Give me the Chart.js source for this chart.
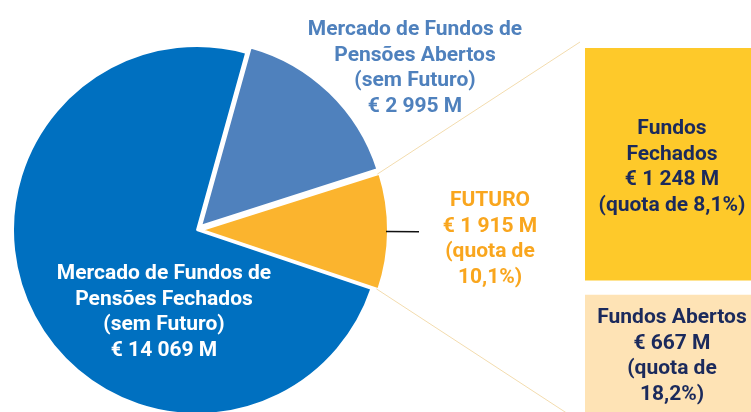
<!DOCTYPE html>
<html>
<head>
<meta charset="utf-8">
<script src="https://cdn.jsdelivr.net/npm/chart.js@4"></script>
<style>
  html, body { margin: 0; padding: 0; background: #fff; overflow: hidden; }
  #wrap { position: relative; width: 751px; height: 412px; overflow: hidden; }
  #bar { position: absolute; left: 585px; top: 0; }
  #pie { position: absolute; left: 0; top: 0; }
</style>
</head>
<body>
<div id="wrap">
  <canvas id="bar" width="170" height="415"></canvas>
  <canvas id="pie" width="751" height="412"></canvas>
</div>
<script>
// Pie: market split (clockwise from the exploded slice)
const pieLabels = [
  "Mercado de Fundos de Pensões Abertos (sem Futuro)",
  "FUTURO",
  "Mercado de Fundos de Pensões Fechados (sem Futuro)",
];
const pieValues = [2995, 1915, 14069];
const pieText = [
  ["Mercado de Fundos de", "Pensões Abertos", "(sem Futuro)", "€ 2 995 M"],
  ["FUTURO", "€ 1 915 M", "(quota de", "10,1%)"],
  ["Mercado de Fundos de", "Pensões Fechados", "(sem Futuro)", "€ 14 069 M"],
];

// Bar: breakdown of FUTURO (bottom to top)
const barLabels = ["Fundos Abertos", "Fundos Fechados"];
const barValues = [667, 1248];
const barText = [
  ["Fundos Abertos", "€ 667 M", "(quota de", "18,2%)"],
  ["Fundos", "Fechados", "€ 1 248 M", "(quota de 8,1%)"],
];

const FONT = "bold 21px Roboto, 'Noto Sans', sans-serif";
const LINE_H = 25.5;

function drawLines(ctx, lines, cx, cy, color) {
  ctx.save();
  ctx.font = FONT;
  ctx.fillStyle = color;
  ctx.textAlign = "center";
  ctx.textBaseline = "middle";
  const n = lines.length;
  lines.forEach((t, i) => {
    ctx.fillText(t, cx, cy + (i - (n - 1) / 2) * LINE_H);
  });
  ctx.restore();
}

/* ── stacked bar on the right ── */

const barGaps = [{ top: 8 }, { bottom: 7 }];

const barLabelPlugin = {
  id: "barLabels",
  afterDatasetsDraw(chart) {
    const ctx = chart.ctx;
    chart.data.datasets.forEach((ds, i) => {
      const el = chart.getDatasetMeta(i).data[0];
      let top = Math.min(el.y, el.base);
      let bottom = Math.max(el.y, el.base);
      top += barGaps[i].top || 0;
      bottom -= barGaps[i].bottom || 0;
      drawLines(ctx, barText[i], el.x + 2, (top + bottom) / 2 + (i === 0 ? 1 : 3), "#1b2a5c");
    });
  },
};

const barChart = new Chart(document.getElementById("bar"), {
  type: "bar",
  data: {
    labels: [""],
    datasets: [
      {
        label: barLabels[0],
        data: [barValues[0]],
        backgroundColor: "#fee3b5",
        borderColor: "#ffffff",
        borderWidth: barGaps[0],
        borderSkipped: false,
        barPercentage: 1,
        categoryPercentage: 1,
      },
      {
        label: barLabels[1],
        data: [barValues[1]],
        backgroundColor: "#fec92a",
        borderColor: "#ffffff",
        borderWidth: barGaps[1],
        borderSkipped: false,
        barPercentage: 1,
        categoryPercentage: 1,
      },
    ],
  },
  options: {
    responsive: false,
    animation: false,
    layout: { padding: { top: 48, left: 0, right: 0, bottom: 0 } },
    scales: {
      x: { display: false, stacked: true },
      y: { display: false, stacked: true, min: 0, max: barValues[0] + barValues[1] },
    },
    plugins: { legend: { display: false }, tooltip: { enabled: false } },
  },
  plugins: [barLabelPlugin],
});

/* ── pie ── */

const BAR_LEFT = 585; // left of bar canvas in page coords

const pieDecor = {
  id: "pieDecor",
  afterDatasetsDraw(chart) {
    const ctx = chart.ctx;
    const arcs = chart.getDatasetMeta(0).data;
    const offsets = chart.data.datasets[0].offset;

    // point on the outer edge of an arc at a given angle, including its offset
    // (Chart.js v4 moves an arc by offset / 4)
    function edge(i, ang, extra) {
      const a = arcs[i];
      const mid = (a.startAngle + a.endAngle) / 2;
      const ox = Math.cos(mid) * offsets[i] / 4;
      const oy = Math.sin(mid) * offsets[i] / 4;
      const r = a.outerRadius + (extra || 0);
      return [a.x + ox + Math.cos(ang) * r, a.y + oy + Math.sin(ang) * r];
    }

    // connectors from FUTURO slice to the bar
    const fut = arcs[1];
    const barMeta = barChart.getDatasetMeta(1).data[0];
    const barBottom = barChart.getDatasetMeta(0).data[0].base;
    const p1 = edge(1, fut.startAngle);
    const p2 = edge(1, fut.endAngle);
    ctx.save();
    ctx.strokeStyle = "#f3dcae";
    ctx.lineWidth = 1;
    ctx.beginPath();
    ctx.moveTo(p1[0], p1[1]);
    ctx.lineTo(BAR_LEFT - 5, barMeta.y - 6);
    ctx.moveTo(p2[0], p2[1]);
    ctx.lineTo(BAR_LEFT, barBottom + 10);
    ctx.stroke();

    // short leader next to FUTURO slice
    const mid = (fut.startAngle + fut.endAngle) / 2;
    const l1 = edge(1, mid, 0);
    const l2 = edge(1, mid, 33);
    ctx.strokeStyle = "#111";
    ctx.lineWidth = 1.5;
    ctx.beginPath();
    ctx.moveTo(l1[0], l1[1]);
    ctx.lineTo(l2[0], l2[1]);
    ctx.stroke();
    ctx.restore();

    // slice labels
    const cx = arcs[0].x, cy = arcs[0].y;
    drawLines(ctx, pieText[0], cx + 218, cy - 162, "#4f81bd");
    drawLines(ctx, pieText[1], cx + 293, cy + 9, "#f9a61e");
    drawLines(ctx, pieText[2], cx - 33, cy + 82, "#ffffff");
  },
};

new Chart(document.getElementById("pie"), {
  type: "pie",
  data: {
    labels: pieLabels,
    datasets: [
      {
        data: pieValues,
        backgroundColor: ["#4f81bd", "#fbb42e", "#0070c0"],
        borderColor: "#ffffff",
        borderWidth: 2,
        offset: [24, 20, 0],
      },
    ],
  },
  options: {
    responsive: false,
    animation: false,
    rotation: 15.5,
    radius: 184,
    layout: { padding: { top: 48, left: 0, right: 357, bottom: 0 } },
    plugins: { legend: { display: false }, tooltip: { enabled: false } },
  },
  plugins: [pieDecor],
});
</script>
</body>
</html>
